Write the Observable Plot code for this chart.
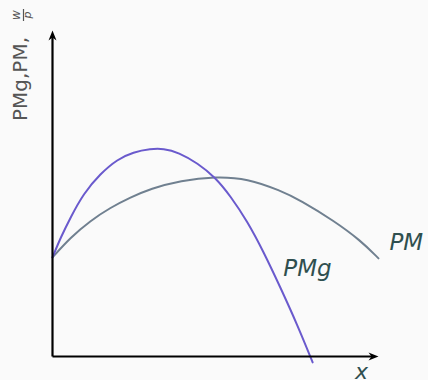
<!DOCTYPE html>
<html>
<head>
<meta charset="utf-8">
<script src="https://cdn.jsdelivr.net/npm/d3@7"></script>
<script src="https://cdn.jsdelivr.net/npm/@observablehq/plot@0.6"></script>
<style>
  html, body { margin: 0; padding: 0; background: #fafafa; }
  #chart { width: 428px; height: 380px; }
</style>
</head>
<body>
<div id="chart"></div>
<script>
// Marginal product (PMg)
const pmgX = [0, 0.25, 0.55, 0.95, 1.47, 1.99, 2.48, 3.01, 3.40, 3.87, 4.45, 5.00, 5.46, 5.98, 6.47, 6.99, 7.52, 7.98];
const pmgY = [3.04, 3.65, 4.26, 5.00, 5.61, 6.05, 6.27, 6.37, 6.38, 6.26, 5.93, 5.49, 4.92, 4.14, 3.22, 2.12, 0.95, -0.18];
// Average product (PM)
const pmX = [0, 0.55, 1.17, 1.78, 2.39, 3.01, 3.93, 5.00, 5.98, 6.99, 7.61, 8.62, 9.45, 10.0];
const pmY = [3.04, 3.65, 4.17, 4.57, 4.88, 5.15, 5.40, 5.52, 5.46, 5.09, 4.79, 4.17, 3.56, 3.01];
// Axis extents and labels
const axisMax = 10;
const curveLabels = ["PM", "PMg"];
const xLabel = "x";
const yLabel = "PMg,PM,";
const yFracTop = "w";
const yFracBottom = "p";

const stealthRight = {
  draw(ctx) { ctx.moveTo(0, 0); ctx.lineTo(-10, -4); ctx.lineTo(-7, 0); ctx.lineTo(-10, 4); ctx.closePath(); }
};
const stealthUp = {
  draw(ctx) { ctx.moveTo(0, 0); ctx.lineTo(-4, 10); ctx.lineTo(0, 7); ctx.lineTo(4, 10); ctx.closePath(); }
};

const txtColor = "#2f4f4f";
const fontFam = "'DejaVu Sans', sans-serif";

const chart = Plot.plot({
  width: 428,
  height: 380,
  marginLeft: 52,
  marginRight: 50,
  marginTop: 30,
  marginBottom: 24,
  x: {domain: [0, axisMax], axis: null},
  y: {domain: [0, axisMax], axis: null},
  style: {background: "#fafafa", overflow: "visible", fontFamily: fontFam},
  marks: [
    Plot.line(pmX, {x: (d) => d, y: (d, i) => pmY[i], stroke: "#708090", strokeWidth: 2, curve: "basis"}),
    Plot.line(pmgX, {x: (d) => d, y: (d, i) => pmgY[i], stroke: "#6a5acd", strokeWidth: 2, curve: "basis"}),
    Plot.link([0], {x1: 0, y1: 0, x2: axisMax - 0.15, y2: 0, stroke: "black", strokeWidth: 2.2}),
    Plot.link([0], {x1: 0, y1: 0, x2: 0, y2: axisMax - 0.15, stroke: "black", strokeWidth: 2.2}),
    Plot.dot([0], {x: axisMax, y: 0, symbol: stealthRight, fill: "black", stroke: "none"}),
    Plot.dot([0], {x: 0, y: axisMax, symbol: stealthUp, fill: "black", stroke: "none"}),
    Plot.text([pmX.length - 1], {
      x: (i) => pmX[i], y: (i) => pmY[i], text: () => curveLabels[0],
      textAnchor: "start", dx: 11, dy: -16, fontSize: 23, fontStyle: "italic", fill: txtColor
    }),
    Plot.text([15], {
      x: (i) => pmgX[i], y: (i) => pmgY[i], text: () => curveLabels[1],
      textAnchor: "start", dx: 3, dy: -19, fontSize: 23, fontStyle: "italic", fill: txtColor
    }),
    Plot.text([0], {
      x: axisMax, y: 0, text: () => xLabel,
      textAnchor: "middle", dx: -17, dy: 15, fontSize: 22, fontStyle: "italic", fill: txtColor
    })
  ]
});

// rotated y label with the w/p fraction
const svg = d3.select(chart);
const g = svg.append("g").attr("transform", "translate(27,121) rotate(-90)")
  .attr("font-family", fontFam).attr("fill", "#555").attr("text-anchor", "start");
g.append("text").attr("x", 0).attr("y", 0).attr("font-size", 20).attr("text-anchor", "start").text(yLabel);
g.append("text").attr("x", 106).attr("y", -7.5).attr("font-size", 12).attr("font-style", "italic")
  .attr("text-anchor", "middle").text(yFracTop);
g.append("text").attr("x", 106).attr("y", 4).attr("font-size", 11).attr("font-style", "italic")
  .attr("text-anchor", "middle").text(yFracBottom);
g.append("line").attr("x1", 100).attr("x2", 112).attr("y1", -3.5).attr("y2", -3.5)
  .attr("stroke", "#555").attr("stroke-width", 1.2);

document.getElementById("chart").appendChild(chart);
</script>
</body>
</html>
